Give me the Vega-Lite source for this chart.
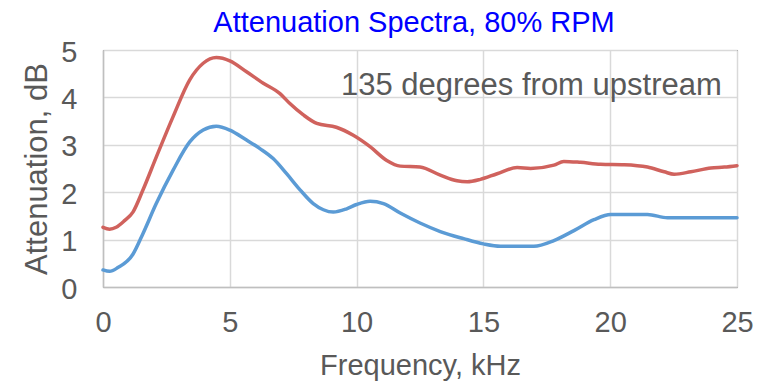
{
  "$schema": "https://vega.github.io/schema/vega-lite/v6.json",
  "width": 634,
  "height": 237,
  "autosize": {"type": "none"},
  "padding": {"left": 103, "top": 50, "right": 32, "bottom": 97},
  "background": "white",
  "config": {
    "view": {"stroke": "black", "strokeWidth": 1},
    "font": "Liberation Sans"
  },
  "title": {
    "text": "Attenuation Spectra, 80% RPM",
    "color": "#0000FF",
    "fontSize": 29,
    "fontWeight": "normal",
    "font": "Liberation Sans",
    "anchor": "middle",
    "dx": -6,
    "dy": 12,
    "offset": 12
  },
  "layer": [
    {
      "data": {
        "values": [
          {"s": "red", "f": 0, "v": 1.26}, {"s": "red", "f": 0.26, "v": 1.22}, {"s": "red", "f": 0.52, "v": 1.26},
          {"s": "red", "f": 0.85, "v": 1.4}, {"s": "red", "f": 1.18, "v": 1.58}, {"s": "red", "f": 1.57, "v": 2.04},
          {"s": "red", "f": 2.1, "v": 2.74}, {"s": "red", "f": 2.76, "v": 3.59}, {"s": "red", "f": 3.42, "v": 4.37},
          {"s": "red", "f": 3.95, "v": 4.72}, {"s": "red", "f": 4.47, "v": 4.84}, {"s": "red", "f": 5.0, "v": 4.77},
          {"s": "red", "f": 5.66, "v": 4.54}, {"s": "red", "f": 6.32, "v": 4.3}, {"s": "red", "f": 6.98, "v": 4.08},
          {"s": "red", "f": 7.37, "v": 3.87}, {"s": "red", "f": 7.9, "v": 3.63}, {"s": "red", "f": 8.43, "v": 3.45},
          {"s": "red", "f": 9.2, "v": 3.37}, {"s": "red", "f": 9.87, "v": 3.2}, {"s": "red", "f": 10.53, "v": 2.96},
          {"s": "red", "f": 11.19, "v": 2.67}, {"s": "red", "f": 11.72, "v": 2.55}, {"s": "red", "f": 12.5, "v": 2.53},
          {"s": "red", "f": 13.3, "v": 2.36}, {"s": "red", "f": 13.96, "v": 2.24}, {"s": "red", "f": 14.36, "v": 2.22},
          {"s": "red", "f": 14.88, "v": 2.27}, {"s": "red", "f": 15.54, "v": 2.39}, {"s": "red", "f": 16.33, "v": 2.52},
          {"s": "red", "f": 16.86, "v": 2.5}, {"s": "red", "f": 17.78, "v": 2.57}, {"s": "red", "f": 18.17, "v": 2.65},
          {"s": "red", "f": 18.83, "v": 2.63}, {"s": "red", "f": 19.62, "v": 2.59}, {"s": "red", "f": 20.55, "v": 2.58},
          {"s": "red", "f": 21.47, "v": 2.53}, {"s": "red", "f": 22.13, "v": 2.43}, {"s": "red", "f": 22.52, "v": 2.38},
          {"s": "red", "f": 23.18, "v": 2.43}, {"s": "red", "f": 23.97, "v": 2.51}, {"s": "red", "f": 24.5, "v": 2.53},
          {"s": "red", "f": 25, "v": 2.56},
          {"s": "blue", "f": 0, "v": 0.36}, {"s": "blue", "f": 0.26, "v": 0.33}, {"s": "blue", "f": 0.59, "v": 0.41},
          {"s": "blue", "f": 1.18, "v": 0.69}, {"s": "blue", "f": 1.57, "v": 1.12}, {"s": "blue", "f": 2.1, "v": 1.76},
          {"s": "blue", "f": 2.76, "v": 2.46}, {"s": "blue", "f": 3.42, "v": 3.06}, {"s": "blue", "f": 3.95, "v": 3.31},
          {"s": "blue", "f": 4.47, "v": 3.39}, {"s": "blue", "f": 5.0, "v": 3.31}, {"s": "blue", "f": 5.66, "v": 3.1},
          {"s": "blue", "f": 6.19, "v": 2.92}, {"s": "blue", "f": 6.71, "v": 2.71}, {"s": "blue", "f": 7.24, "v": 2.39},
          {"s": "blue", "f": 7.77, "v": 2.05}, {"s": "blue", "f": 8.29, "v": 1.76}, {"s": "blue", "f": 8.69, "v": 1.63},
          {"s": "blue", "f": 9.08, "v": 1.58}, {"s": "blue", "f": 9.61, "v": 1.65}, {"s": "blue", "f": 10.0, "v": 1.74},
          {"s": "blue", "f": 10.53, "v": 1.81}, {"s": "blue", "f": 11.06, "v": 1.76}, {"s": "blue", "f": 11.72, "v": 1.56},
          {"s": "blue", "f": 12.5, "v": 1.35}, {"s": "blue", "f": 13.3, "v": 1.17}, {"s": "blue", "f": 14.22, "v": 1.02},
          {"s": "blue", "f": 15.0, "v": 0.91}, {"s": "blue", "f": 15.67, "v": 0.86}, {"s": "blue", "f": 16.99, "v": 0.86},
          {"s": "blue", "f": 17.78, "v": 0.98}, {"s": "blue", "f": 18.57, "v": 1.19}, {"s": "blue", "f": 19.36, "v": 1.42},
          {"s": "blue", "f": 20.02, "v": 1.53}, {"s": "blue", "f": 21.47, "v": 1.53}, {"s": "blue", "f": 22.26, "v": 1.46},
          {"s": "blue", "f": 23.58, "v": 1.46}, {"s": "blue", "f": 25, "v": 1.46}
        ]
      },
      "mark": {"type": "line", "interpolate": "monotone", "strokeWidth": 3.5, "strokeCap": "round"},
      "encoding": {
        "x": {
          "field": "f", "type": "quantitative",
          "scale": {"domain": [0, 25], "nice": false, "zero": false},
          "axis": {
            "title": "Frequency, kHz",
            "values": [0, 5, 10, 15, 20, 25],
            "grid": true, "gridColor": "#D9D9D9", "gridWidth": 1.5,
            "ticks": false,
            "domainColor": "#BFBFBF", "domainWidth": 1.5,
            "labelFontSize": 29, "labelColor": "#595959", "labelPadding": 21,
            "labelFlush": false, "labelOverlap": false,
            "titleFontSize": 29, "titleColor": "#595959", "titleFontWeight": "normal",
            "titlePadding": 14
          }
        },
        "y": {
          "field": "v", "type": "quantitative",
          "scale": {"domain": [0, 5], "nice": false},
          "axis": {
            "title": "Attenuation, dB",
            "values": [0, 1, 2, 3, 4, 5],
            "grid": true, "gridColor": "#D9D9D9", "gridWidth": 1.5,
            "ticks": false,
            "domainColor": "#BFBFBF", "domainWidth": 1.5,
            "labelFontSize": 29, "labelColor": "#595959", "labelPadding": 26,
            "labelFlush": false, "labelOverlap": false, "labelOffset": 2,
            "titleFontSize": 31, "titleColor": "#595959", "titleFontWeight": "normal",
            "titlePadding": 7
          }
        },
        "color": {
          "field": "s", "type": "nominal",
          "scale": {"domain": ["red", "blue"], "range": ["#D0625D", "#5B9BD5"]},
          "legend": null
        }
      }
    },
    {
      "data": {"values": [{"label": "135 degrees from upstream", "f": 24.4, "v": 4.05}]},
      "mark": {"type": "text", "align": "right", "baseline": "alphabetic", "fontSize": 31, "color": "#595959"},
      "encoding": {
        "x": {"field": "f", "type": "quantitative"},
        "y": {"field": "v", "type": "quantitative"},
        "text": {"field": "label"}
      }
    }
  ]
}
